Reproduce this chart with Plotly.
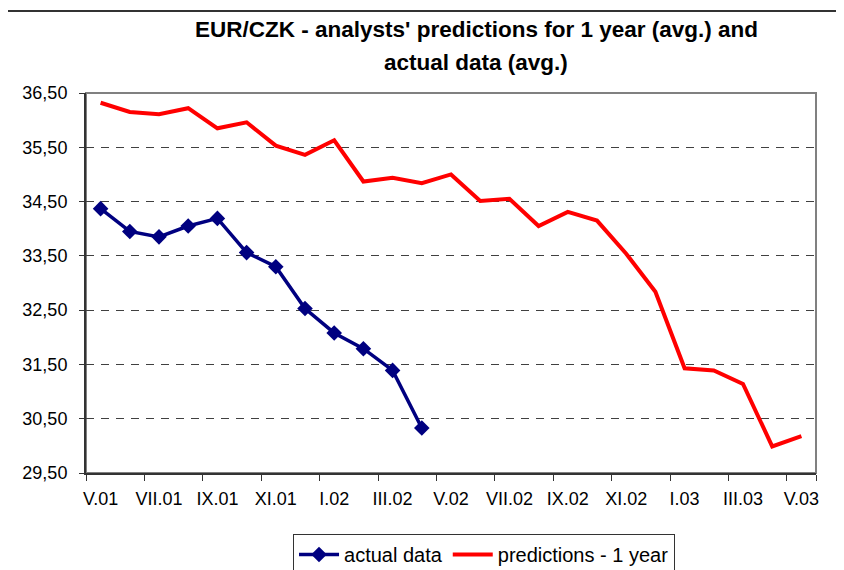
import plotly.graph_objects as go

# months May 2001 .. May 2003
months = ['V.01', 'VI.01', 'VII.01', 'VIII.01', 'IX.01', 'X.01', 'XI.01', 'XII.01',
          'I.02', 'II.02', 'III.02', 'IV.02', 'V.02', 'VI.02', 'VII.02', 'VIII.02',
          'IX.02', 'X.02', 'XI.02', 'XII.02', 'I.03', 'II.03', 'III.03', 'IV.03', 'V.03']

# actual EUR/CZK monthly average (May 2001 - Apr 2002)
actual = [34.37, 33.95, 33.85, 34.05, 34.19, 33.56, 33.30, 32.53, 32.08, 31.79, 31.39, 30.33]

# analysts' 1-year predictions (average)
predictions = [36.32, 36.15, 36.11, 36.22, 35.85, 35.96, 35.53, 35.36, 35.63, 34.87,
               34.94, 34.84, 35.00, 34.51, 34.55, 34.05, 34.31, 34.15, 33.54, 32.84,
               31.43, 31.39, 31.14, 29.99, 30.18]

y_ticks = [29.5, 30.5, 31.5, 32.5, 33.5, 34.5, 35.5, 36.5]

fig = go.Figure()

fig.add_trace(go.Scatter(
    x=months[:len(actual)], y=actual,
    name='actual data',
    mode='lines+markers',
    line=dict(color='#000080', width=3.5),
    marker=dict(symbol='diamond', size=12, color='#000080')
))

fig.add_trace(go.Scatter(
    x=months, y=predictions,
    name='predictions - 1 year',
    mode='lines',
    line=dict(color='#ff0000', width=4)
))

font_family = 'Liberation Sans, Arial, sans-serif'

# page body has an 8px margin, so the figure is a bit smaller than the window
fig.update_layout(
    width=836, height=562,
    autosize=False,
    margin=dict(l=78, r=28, t=85, b=97, autoexpand=False),
    paper_bgcolor='white',
    plot_bgcolor='white',
    separators=',.',
    font=dict(family=font_family, color='black'),
    showlegend=True,
    legend=dict(
        orientation='h',
        x=0.2836, y=-0.1605, xanchor='left', yanchor='top',
        bordercolor='#333333', borderwidth=1, bgcolor='white',
        font=dict(size=20, family=font_family, color='black'),
        itemwidth=40
    ),
    annotations=[
        dict(text="<b>EUR/CZK - analysts' predictions for 1 year (avg.) and</b>",
             xref='paper', yref='paper', x=(476 - 86) / 730, y=1.166,
             xanchor='center', yanchor='middle', showarrow=False,
             font=dict(size=22.5, family=font_family, color='black')),
        dict(text='<b>actual data (avg.)</b>',
             xref='paper', yref='paper', x=(476 - 86) / 730, y=1.079,
             xanchor='center', yanchor='middle', showarrow=False,
             font=dict(size=22.5, family=font_family, color='black')),
    ],
    shapes=[
        # plot area frame (top / right in grey)
        dict(type='rect', xref='paper', yref='paper', x0=0, x1=1, y0=0, y1=1,
             line=dict(color='#808080', width=2), layer='below'),
        # outer chart border
        dict(type='rect', xref='paper', yref='paper', x0=-0.1096, x1=1.3, y0=-0.6, y1=1.2158,
             line=dict(color='#333333', width=2), layer='below'),
    ]
)

fig.update_xaxes(
    type='category',
    categoryorder='array', categoryarray=months,
    range=[-0.5, len(months) - 0.5],
    tickvals=months[::2],
    tickson='boundaries',
    tickangle=0,
    automargin=False,
    ticks='outside', ticklen=6, tickcolor='#333333', tickwidth=1,
    ticklabelstandoff=8,
    showline=True, linecolor='#333333', linewidth=2,
    showgrid=False, zeroline=False,
    tickfont=dict(size=18, family=font_family, color='black')
)

fig.update_yaxes(
    range=[29.5, 36.5],
    tickvals=y_ticks,
    tickformat='.2f',
    automargin=False,
    ticks='outside', ticklen=5, tickcolor='#333333', tickwidth=1,
    ticklabelstandoff=8,
    showline=True, linecolor='#333333', linewidth=2,
    showgrid=True, gridcolor='#404040', gridwidth=1, griddash='8px,7px',
    zeroline=False,
    tickfont=dict(size=18, family=font_family, color='black')
)

fig.write_html('out.html')
